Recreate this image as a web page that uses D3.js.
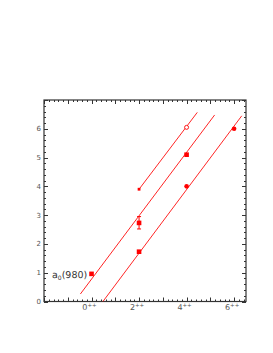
<!DOCTYPE html>
<html><head><meta charset="utf-8">
<script src="https://cdn.jsdelivr.net/npm/d3@7"></script>
<style>body{margin:0;background:#fff}svg{display:block}text{text-rendering:geometricPrecision}</style>
</head><body>
<svg id="c" width="273" height="353"></svg>
<script>
// Data
const xTickLabels = [0, 2, 4, 6];
const yTickLabels = [0, 1, 2, 3, 4, 5, 6];
const pointX = [0, 2, 2, 2, 4, 4, 4, 6];
const pointY = [0.96, 1.73, 2.73, 3.9, 6.05, 5.1, 4.0, 6.0];
const pointShape = ["square", "square", "square", "smallsquare", "opencircle", "square", "circle", "circle"];
const errLow = [null, null, 2.52, null, null, null, null, null];
const errHigh = [null, null, 2.95, null, null, null, null, null];
const lineX1 = [2.0, -0.47, 0.48];
const lineY1 = [3.9, 0.26, 0.0];
const lineX2 = [4.45, 5.18, 6.32];
const lineY2 = [6.57, 6.48, 6.45];
const labelText = "a";
const labelSub = "0";
const labelRest = "(980)";

const svg = d3.select("#c");
const L = 44, R = 246, T = 100, B = 301.5;
const x = d3.scaleLinear().domain([-2, 6.5]).range([L, R]);
const y = d3.scaleLinear().domain([0, 7]).range([B, T]);
const red = "#ff0000", axc = "#333";

// ticks
const xMinor = d3.range(-2, 6.5001, 0.2).map(v => +v.toFixed(2));
const yMinor = d3.range(0, 7.0001, 0.2).map(v => +v.toFixed(2));
const isMaj = v => Math.abs(v - Math.round(v)) < 1e-6;
const tg = svg.append("g").attr("stroke", axc).attr("stroke-width", 1);
xMinor.forEach(v => {
  const len = isMaj(v) ? 4 : 2;
  const px = Math.round(x(v)) + 0.5;
  tg.append("line").attr("x1", px).attr("x2", px).attr("y1", B).attr("y2", B - len);
  tg.append("line").attr("x1", px).attr("x2", px).attr("y1", T).attr("y2", T + len);
});
yMinor.forEach(v => {
  const len = isMaj(v) ? 4 : 2;
  const py = Math.round(y(v)) + 0.5;
  tg.append("line").attr("y1", py).attr("y2", py).attr("x1", L).attr("x2", L + len);
  tg.append("line").attr("y1", py).attr("y2", py).attr("x1", R).attr("x2", R - len);
});
svg.append("rect").attr("x", L).attr("y", T).attr("width", R - L).attr("height", B - T)
  .attr("fill", "none").attr("stroke", axc).attr("stroke-width", 1.2);

// tick labels
const font = "DejaVu Sans, sans-serif";
yTickLabels.forEach(v => {
  svg.append("text").attr("x", 41).attr("y", y(v) + 2.5).attr("text-anchor", "end")
    .attr("font-family", font).attr("font-size", 7).attr("fill", "#555").text(v);
});
xTickLabels.forEach(v => {
  const t = svg.append("text").attr("x", x(v) - 2).attr("y", 310).attr("text-anchor", "middle")
    .attr("font-family", font).attr("font-size", 8).attr("fill", "#555");
  t.append("tspan").attr("fill", "#555").text(v);
  t.append("tspan").attr("dy", -3).attr("font-size", 5.5).attr("fill", "#555").text("++");
});

// lines
const lg = svg.append("g").attr("stroke", red).attr("stroke-width", 1).attr("opacity", 0.85);
lineX1.forEach((_, i) => {
  lg.append("line").attr("x1", x(lineX1[i])).attr("y1", y(lineY1[i]))
    .attr("x2", x(lineX2[i])).attr("y2", y(lineY2[i]));
});

// error bars
pointX.forEach((px, i) => {
  if (errLow[i] == null) return;
  const cx = x(px);
  svg.append("line").attr("x1", cx).attr("x2", cx).attr("y1", y(errLow[i])).attr("y2", y(errHigh[i])).attr("stroke", red);
  [errLow[i], errHigh[i]].forEach(e => svg.append("line").attr("x1", cx - 2).attr("x2", cx + 2)
    .attr("y1", y(e)).attr("y2", y(e)).attr("stroke", red));
});

// markers
pointX.forEach((px, i) => {
  const cx = x(px), cy = y(pointY[i]), s = pointShape[i];
  if (s === "square") svg.append("rect").attr("x", cx - 2.3).attr("y", cy - 2.3).attr("width", 4.6).attr("height", 4.6).attr("fill", red);
  else if (s === "smallsquare") svg.append("rect").attr("x", cx - 1.4).attr("y", cy - 1.4).attr("width", 2.8).attr("height", 2.8).attr("fill", red);
  else if (s === "circle") svg.append("circle").attr("cx", cx).attr("cy", cy).attr("r", 2.3).attr("fill", red);
  else if (s === "opencircle") svg.append("circle").attr("cx", cx).attr("cy", cy).attr("r", 2).attr("fill", "#fff").attr("stroke", red).attr("stroke-width", 0.9);
});

// label
const lt = svg.append("text").attr("x", 52).attr("y", 278).attr("font-family", font)
  .attr("font-size", 9.5).attr("fill", "#333");
lt.append("tspan").text(labelText);
lt.append("tspan").attr("dy", 2).attr("font-size", 6).text(labelSub);
lt.append("tspan").attr("dy", -2).text(labelRest);
</script>
</body></html>
